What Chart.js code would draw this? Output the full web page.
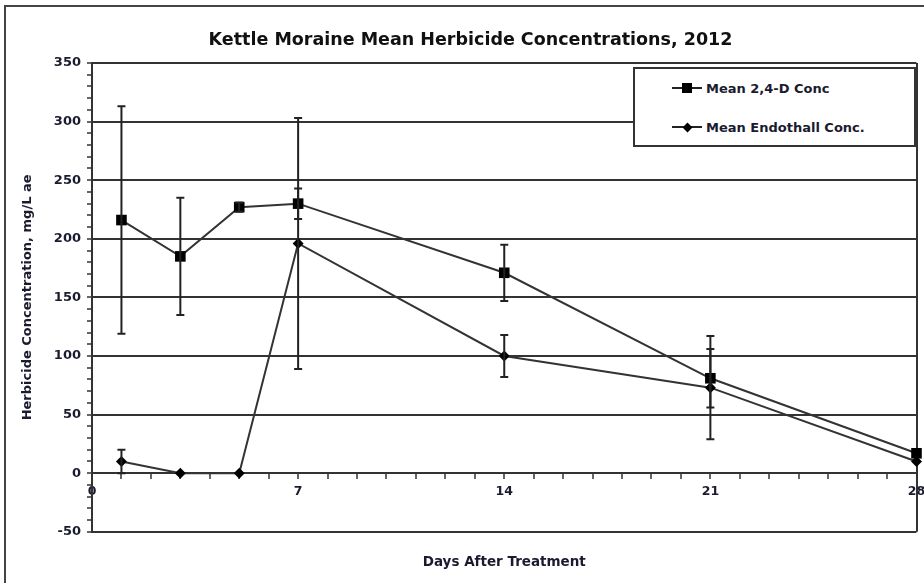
<!DOCTYPE html>
<html>
<head>
<meta charset="utf-8">
<title>Kettle Moraine Mean Herbicide Concentrations, 2012</title>
<script src="https://cdn.jsdelivr.net/npm/chart.js@4/dist/chart.umd.min.js"></script>
<style>
    html, body { margin: 0; padding: 0; background: #fff; overflow: hidden; }
    #wrap { position: relative; width: 924px; height: 583px; overflow: hidden; }
    #frame { position: absolute; left: 4px; top: 5px; width: 1000px; height: 700px; border: 2px solid #444; }
    #chart { position: absolute; left: 0; top: 0; }
    #legend {
        position: absolute; left: 633px; top: 67px; width: 279px; height: 76px;
        border: 2px solid #333; background: #fff;
        font: bold 13px "DejaVu Sans", sans-serif; color: #1b1b2f;
    }
    .item { position: absolute; left: 37px; height: 16px; display: flex; align-items: center; white-space: nowrap; }
    .sample { position: relative; width: 30px; height: 2px; background: #222; margin-right: 4px; }
    .mark { position: absolute; left: 50%; top: 50%; background: #000; }
    .mark.rect { width: 10px; height: 10px; margin: -5px 0 0 -5px; }
    .mark.rectRot { width: 7px; height: 7px; margin: -3.5px 0 0 -3.5px; transform: rotate(45deg); }
</style>
</head>
<body>
<div id="wrap">
    <div id="frame"></div>
    <canvas id="chart" width="924" height="583"></canvas>
    <div id="legend"></div>
</div>
<script>
// Sampling days (days after treatment)
const days = [1, 3, 5, 7, 14, 21, 28];

// Mean 2,4-D concentration and its error (+/-)
const mean24D = [216, 185, 227, 230, 171, 81, 17];
const err24D = [97, 50, 4, 13, 24, 25, 0];

// Mean endothall concentration and its error (+/-)
const meanEndothall = [10, 0, 0, 196, 100, 73, 10];
const errEndothall = [10, 0, 0, 107, 18, 44, 0];

// Labelled ticks
const xLabelDays = [0, 7, 14, 21, 28];
const yLabelValues = [-50, 0, 50, 100, 150, 200, 250, 300, 350];

const FONT = '"DejaVu Sans", "Liberation Sans", sans-serif';
const INK = '#1b1b2f';
const LINE = '#333';

// vertical error bars with caps, drawn from each dataset's "errors" array
const errorBars = {
    id: 'errorBars',
    afterDatasetsDraw(chart) {
        const { ctx, scales: { x, y } } = chart;
        ctx.save();
        ctx.strokeStyle = '#222';
        ctx.lineWidth = 2;
        chart.data.datasets.forEach(ds => {
            ds.data.forEach((p, i) => {
                const e = ds.errors[i];
                if (!e) return;
                const px = x.getPixelForValue(p.x);
                const top = y.getPixelForValue(p.y + e);
                const bot = y.getPixelForValue(p.y - e);
                ctx.beginPath();
                ctx.moveTo(px, top); ctx.lineTo(px, bot);
                ctx.moveTo(px - 4, top); ctx.lineTo(px + 4, top);
                ctx.moveTo(px - 4, bot); ctx.lineTo(px + 4, bot);
                ctx.stroke();
            });
        });
        ctx.restore();
    }
};

const toPoints = (xs, ys) => xs.map((d, i) => ({ x: d, y: ys[i] }));

const chart = new Chart(document.getElementById('chart'), {
    type: 'line',
    data: {
        datasets: [{
            label: 'Mean 2,4-D Conc',
            data: toPoints(days, mean24D),
            errors: err24D,
            borderColor: LINE,
            borderWidth: 2,
            pointStyle: 'rect',
            pointRadius: 7.5,
            pointBackgroundColor: '#000',
            pointBorderColor: '#000',
            pointBorderWidth: 0,
            clip: false
        }, {
            label: 'Mean Endothall Conc.',
            data: toPoints(days, meanEndothall),
            errors: errEndothall,
            borderColor: LINE,
            borderWidth: 2,
            pointStyle: 'rectRot',
            pointRadius: 5.5,
            pointBackgroundColor: '#000',
            pointBorderColor: '#000',
            pointBorderWidth: 0,
            clip: false
        }]
    },
    options: {
        responsive: false,
        animation: false,
        layout: { padding: { left: 20, right: 3, top: 0, bottom: 0 } },
        plugins: {
            legend: { display: false },
            tooltip: { enabled: false },
            title: {
                display: true,
                text: 'Kettle Moraine Mean Herbicide Concentrations, 2012',
                color: '#111',
                font: { family: FONT, size: 17.5, weight: 'bold' },
                padding: { top: 30, bottom: 12 }
            },
            subtitle: {
                display: true,
                position: 'bottom',
                fullSize: false,
                text: 'Days After Treatment',
                color: INK,
                font: { family: FONT, size: 13.5, weight: 'bold' },
                padding: { top: 23, bottom: 12 }
            }
        },
        scales: {
            x: {
                type: 'linear',
                position: { y: 0 },
                min: 0,
                max: 28,
                afterFit(scale) {
                    // the axis sits on the zero line, so it takes no room of its own
                    scale.height = 0;
                    scale.paddingLeft = 0;
                    scale.paddingRight = 0;
                },
                ticks: {
                    stepSize: 1,
                    autoSkip: false,
                    maxRotation: 0,
                    padding: 6,
                    color: INK,
                    font: { family: FONT, size: 12.5, weight: 'bold' },
                    callback: v => xLabelDays.includes(v) ? v : ''
                },
                grid: {
                    color: c => (c.tick && c.tick.value === 28) ? LINE : 'rgba(0,0,0,0)',
                    lineWidth: 2,
                    tickColor: LINE,
                    tickWidth: 1.5,
                    tickLength: 5
                },
                border: { display: true, color: LINE, width: 2 }
            },
            y: {
                min: -50,
                max: 350,
                afterFit(scale) { scale.width = 72; },
                ticks: {
                    stepSize: 10,
                    autoSkip: false,
                    padding: 6,
                    color: INK,
                    font: { family: FONT, size: 13, weight: 'bold' },
                    callback: v => yLabelValues.includes(v) ? v : ''
                },
                grid: {
                    color: c => (c.tick && c.tick.value % 50 === 0) ? LINE : 'rgba(0,0,0,0)',
                    lineWidth: 2,
                    tickColor: LINE,
                    tickWidth: 1.5,
                    tickLength: 5
                },
                border: { display: true, color: LINE, width: 2 },
                title: {
                    display: true,
                    text: 'Herbicide Concentration, mg/L ae',
                    color: INK,
                    font: { family: FONT, size: 13, weight: 'bold' },
                    padding: { top: 0, bottom: 0 }
                }
            }
        }
    },
    plugins: [errorBars]
});

// legend box inside the plot, built from the dataset labels and point styles
const legendEl = document.getElementById('legend');
chart.data.datasets.forEach((ds, i) => {
    const item = document.createElement('div');
    item.className = 'item';
    item.style.top = (11 + i * 39) + 'px';
    item.innerHTML = '<span class="sample"><span class="mark ' + ds.pointStyle + '"></span></span>' +
        '<span>' + ds.label + '</span>';
    legendEl.appendChild(item);
});
</script>
</body>
</html>
